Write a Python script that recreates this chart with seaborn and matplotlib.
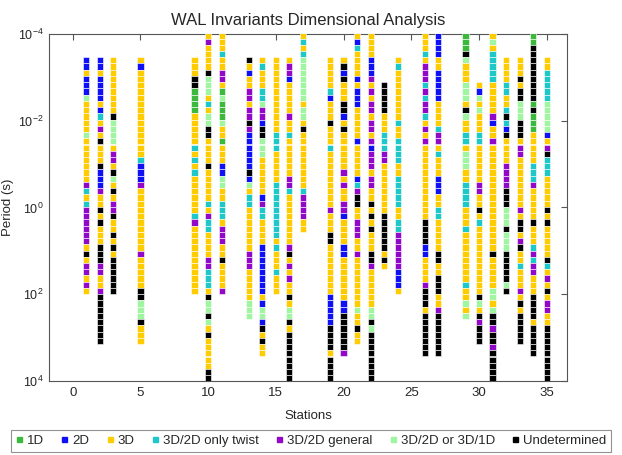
import numpy as np
import pandas as pd
import matplotlib
matplotlib.use("Agg")
import matplotlib.pyplot as plt
from matplotlib.lines import Line2D
import seaborn as sns

# ---------------- data ----------------
# log10 of the sounding periods (s), shortest first
log_periods = [-3.960, -3.817, -3.673, -3.530, -3.386, -3.243, -3.099, -2.956,
               -2.812, -2.669, -2.525, -2.382, -2.238, -2.095, -1.951, -1.808,
               -1.664, -1.521, -1.377, -1.234, -1.090, -0.947, -0.803, -0.660,
               -0.516, -0.373, -0.229, -0.086, 0.058, 0.201, 0.345, 0.488,
               0.632, 0.775, 0.919, 1.062, 1.206, 1.349, 1.493, 1.636,
               1.780, 1.923, 2.067, 2.210, 2.354, 2.497, 2.641, 2.784,
               2.928, 3.071, 3.215, 3.358, 3.502, 3.645, 3.789, 3.932]

stations = [1, 2, 3, 5, 9, 10, 11, 13, 14, 15, 16, 17, 19, 20, 21, 22, 23, 24,
            26, 27, 29, 30, 31, 32, 33, 34, 35]

# index of the first (shortest) period available at each station
first_period = [4, 4, 4, 4, 4, 0, 0, 4, 4, 4, 4, 0, 4, 4, 0, 0, 8, 4,
                0, 0, 0, 8, 0, 4, 4, 0, 4]

# class per period, shortest period first
# G=1D B=2D Y=3D C=3D/2D only twist P=3D/2D general L=3D/2D or 3D/1D K=Undetermined
class_codes = [
    "BBYBBBLYYYYYLYYYYYYYPCYCPPPPPPYKYPPYPY",
    "BBYBBBBYBCYPYKYYYKBBBPYYKYKYYYKKKPPYYPKKKKKKKK",
    "YYYYYYYYYKLLLLYPPYKLYKYPPKYYKYKYKKKKKK",
    "YB" + "Y" * 14 + "CBBBP" + "Y" * 10 + "PYYYYYKKLLLKYYY",
    "YYYKKGGGGYYYYYCYCYCYYYYYYCPYYYYYYYYYYY",
    "YPYYYYKLLLYCYLLKKYYYYKYYYYYCYPCCYYYYPPCCCYKLLKLYKYYYYYKK",
    "YYYCYYPPYGLGGGLYYGYYYBBLLYYCCCYPPPYYKYYYYP",
    "KYBYYPPYPPKPBBBBBBKBLYCC" + "Y" * 7 + "PPPYYYYYLLL",
    "YCYYYCCLPPBKKLLLYYYYYYBPCCYYYYBBBBBBBBYBLLBKYKYY",
    "Y" * 12 + "CCCYYYYY" + "C" * 9 + "YCYYYCYYY",
    "YPPBYYYYYPYYCYYYYYYPPC" + "Y" * 8 + "PKYPYPYYKYLLKY" + "K" * 8,
    "YCYC" + "L" * 7 + "YLLYK" + "Y" * 9 + "CPPPPYY",
    "YYYYYCBYYYKYYYC" + "Y" * 9 + "PYYYKK" + "Y" * 8 + "BBBBBKKKKYKKKK",
    "YKBKYYYKKBYKYYYYYYPYPYYPPBYYYYBB" + "Y" * 7 + "BBKKKKKKP",
    "YBCYYYYBYBBBYYYYYBYYYYYBCPKKYYPPPYYP" + "Y" * 8 + "LYYKYY",
    "YYYYBBBPYPYPPYPPYPBPPPYPPYYKYKYKYYYKKP" + "Y" * 6 + "LLKL" + "K" * 8,
    "KKKKKYYYCCCPP" + "Y" * 8 + "KKKKKKYKY",
    "YC" + "Y" * 8 + "CYYCCCCYYCCCCCYYCCPPPPPPBBBY",
    "YYYCYPPPCPCPPCYPYP" + "Y" * 12 + "KKKKBBYYYYPKKKY" + "K" * 7,
    "BBBBYYBBBBBYYYYCPPYCYYYBBBYYCCYYYYYKKYYKKKYYP" + "K" * 7,
    "GGGKLYYYLLLYKLYYCCYLLLYYCCCCYYYC" + "Y" * 8 + "CYYLYL",
    "YBLYLYYYCCYYYYYYPPYYKYC" + "Y" * 11 + "KLYKPKKK",
    "YLYCCCCCYYYYYPBYYP" + "Y" * 17 + "KYYYYYLLYLKKPKKPKKKKK",
    "YYYYCCYYCKCBKYYYYPPPPKKKLLLKLLLKKKKKLK",
    "YYYKYKKLLLKKKYPP" + "Y" * 8 + "PYKKYPKYYCYYYPYKYKKKKK",
    "GG" + "K" * 9 + "GKGGGYYYYYCCCPYYYYYKYYYCPCPPYYYKKKKYKKKKK",
    "YYCCCCCLLLLLBYPKCCCYYYYYKYKYYYYYKCYPYKYPPYY" + "K" * 9,
]

categories = ["1D", "2D", "3D", "3D/2D only twist", "3D/2D general",
              "3D/2D or 3D/1D", "Undetermined"]
category_codes = ["G", "B", "Y", "C", "P", "L", "K"]
category_colors = ["#3cb93c", "#1010f5", "#ffcc00", "#1ec8c8", "#9208c8",
                   "#a0f5a0", "#000000"]

x_ticks = [0, 5, 10, 15, 20, 25, 30, 35]
y_ticks = [1e-4, 1e-2, 1e0, 1e2, 1e4]
y_tick_labels = [r"$10^{-4}$", r"$10^{-2}$", r"$10^{0}$", r"$10^{2}$", r"$10^{4}$"]

# ---------------- build long table ----------------
code_to_cat = dict(zip(category_codes, categories))
rows = []
for st, start, codes in zip(stations, first_period, class_codes):
    for i, c in enumerate(codes):
        rows.append({"Station": st,
                     "Period": 10 ** log_periods[start + i],
                     "Class": code_to_cat[c]})
df = pd.DataFrame(rows)
palette = dict(zip(categories, category_colors))

# ---------------- plot ----------------
sns.set_style("white")
plt.rcParams["font.family"] = ["Liberation Sans", "DejaVu Sans"]
plt.rcParams["mathtext.fontset"] = "custom"
plt.rcParams["mathtext.rm"] = "Liberation Sans"
plt.rcParams["mathtext.it"] = "Liberation Sans:italic"
plt.rcParams["mathtext.bf"] = "Liberation Sans:bold"

fig = plt.figure(figsize=(6.22, 4.55), dpi=100)
ax = fig.add_axes([0.0788, 0.162, 0.8328, 0.764])

sns.scatterplot(data=df, x="Station", y="Period", hue="Class",
                hue_order=categories, palette=palette, marker="s", s=20,
                edgecolor="white", linewidth=0.4, legend=False, ax=ax,
                zorder=3, clip_on=True)

ax.set_yscale("log")
ax.set_ylim(1e4, 1e-4)
ax.set_xlim(-1.75, 36.5)
ax.set_yticks(y_ticks)
ax.set_yticklabels(y_tick_labels)
ax.yaxis.set_minor_locator(matplotlib.ticker.NullLocator())
ax.set_xticks(x_ticks)
ax.set_xticklabels([str(t) for t in x_ticks])

ax.tick_params(axis="both", which="major", direction="in", length=4,
               width=0.8, color="#555555", labelsize=9.5, top=True,
               right=True, pad=4)
ax.tick_params(axis="y", labelsize=9)
for sp in ax.spines.values():
    sp.set_color("#555555")
    sp.set_linewidth(0.8)

ax.set_title("WAL Invariants Dimensional Analysis", fontsize=12, pad=6)
ax.set_xlabel("Stations", fontsize=9.5, labelpad=8)
ax.set_ylabel("Period (s)", fontsize=9.5)
ax.yaxis.set_label_coords(-0.068, 0.5)

handles = [Line2D([0], [0], marker="s", linestyle="none", markersize=3.6,
                  markerfacecolor=col, markeredgecolor=col)
           for col in category_colors]
leg = fig.legend(handles, categories, loc="center",
                 bbox_to_anchor=(0.5, 0.031), ncol=7, fontsize=9.5,
                 handlelength=0.5, handletextpad=0.35, columnspacing=1.3,
                 borderpad=0.35, fancybox=False, frameon=True)
leg.get_frame().set_edgecolor("#777777")
leg.get_frame().set_linewidth(0.8)

fig.savefig("out.png", dpi=100, facecolor="white")
